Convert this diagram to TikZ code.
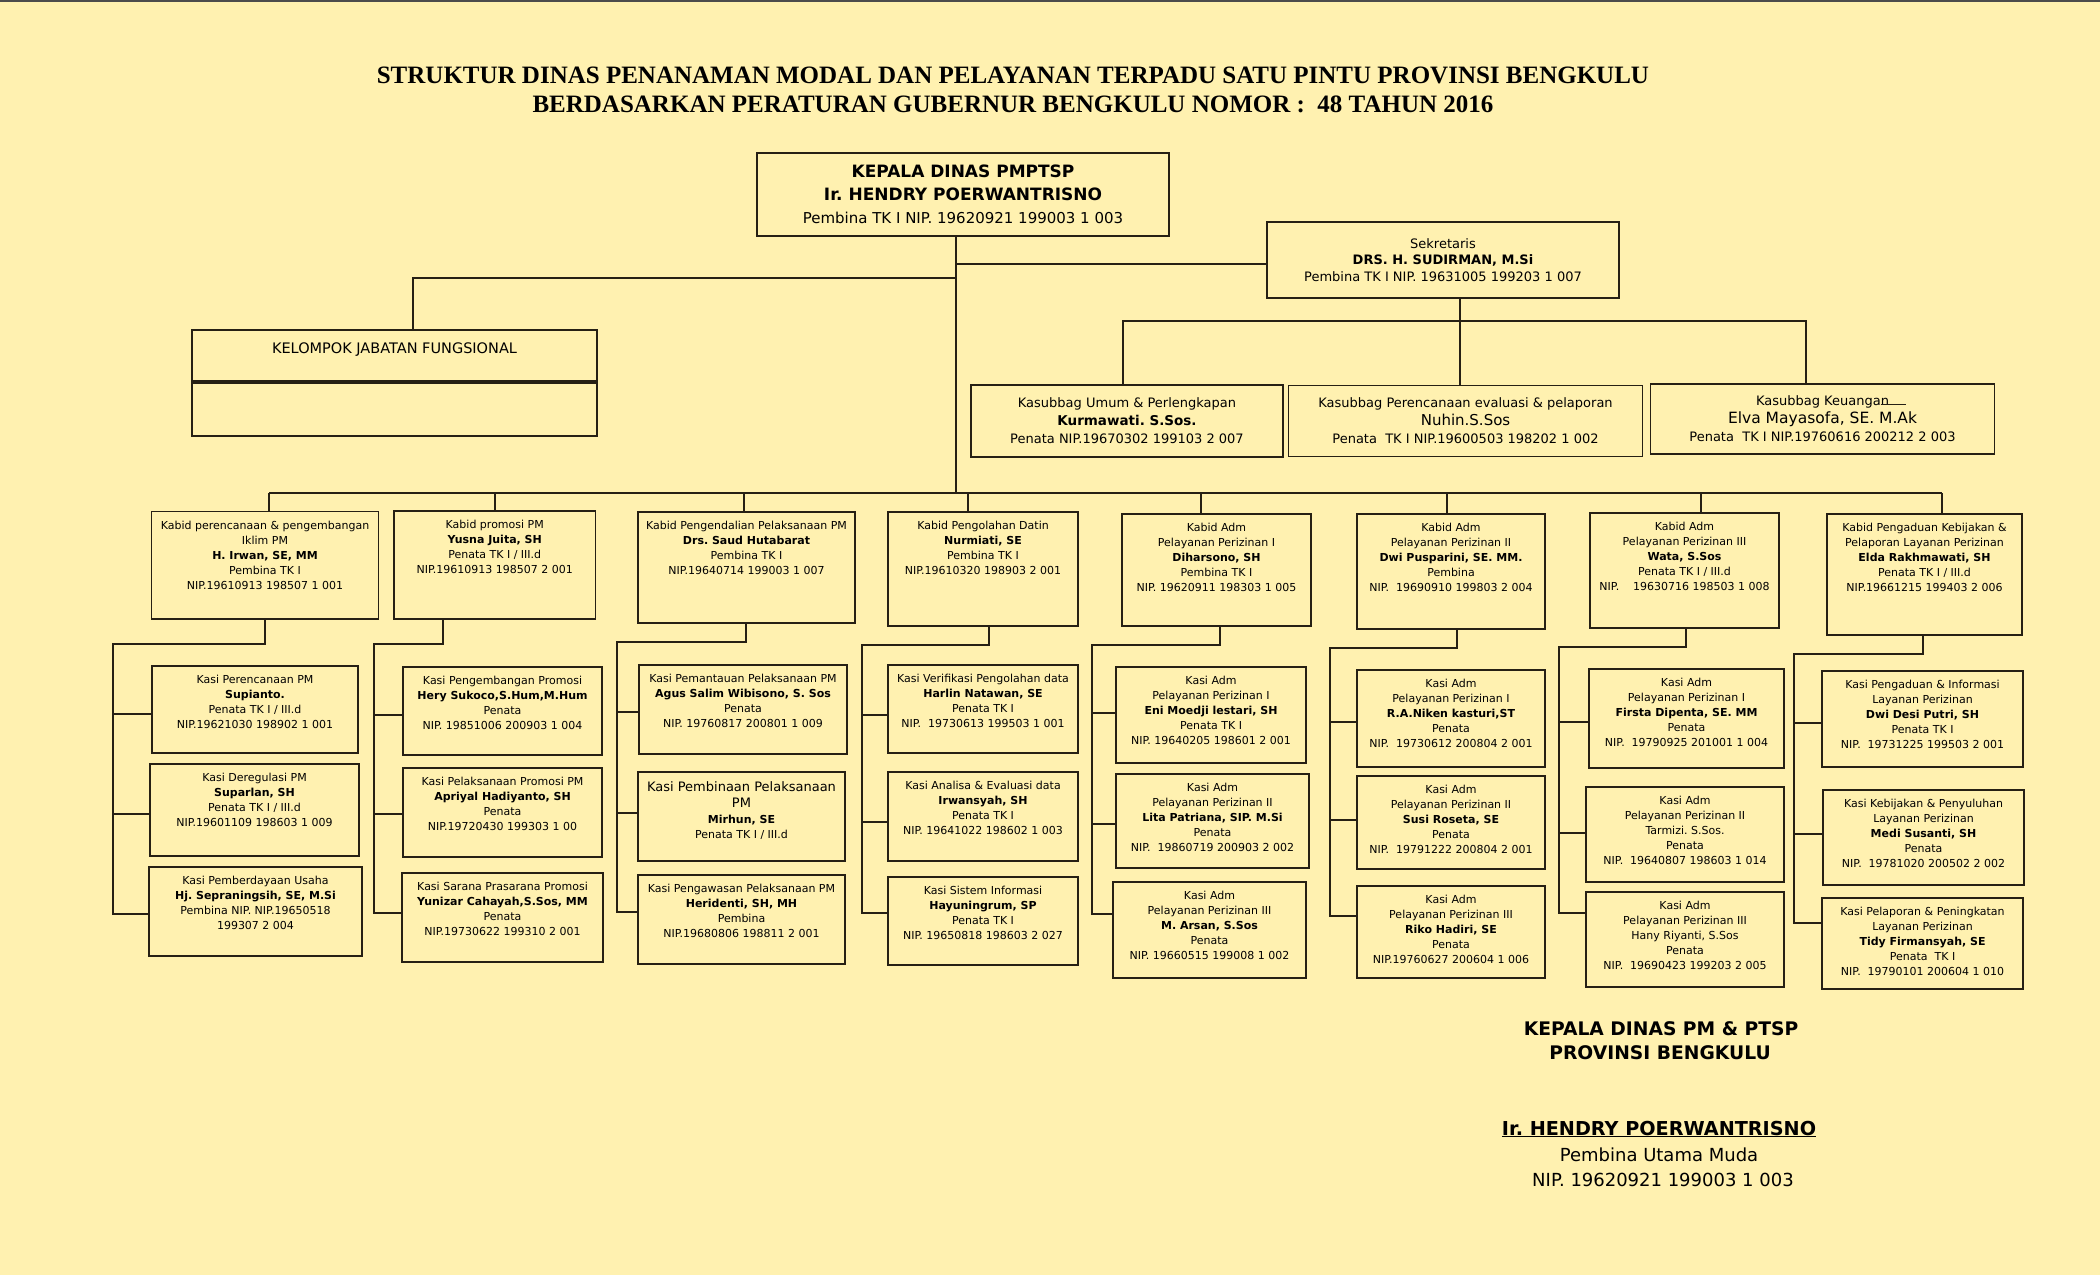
\documentclass[tikz,border=0pt]{standalone}
\usepackage{fontspec}
\setmainfont{DejaVu Sans}
\newfontfamily\titlefont{Liberation Serif}
\usetikzlibrary{positioning}
\definecolor{paper}{RGB}{255,241,176}
\definecolor{ink}{RGB}{38,32,20}
\frenchspacing

\begin{document}
\begin{tikzpicture}[x=1pt,y=-1pt,
  box/.style={draw=ink,line width=1.6pt,rectangle,inner sep=0pt},
  txt/.style={anchor=north,align=center,inner sep=0pt,yshift=-10pt,font=\fontsize{11}{15}\selectfont},
  wire/.style={draw=ink,line width=1.4pt}]
  \useasboundingbox (0,0) rectangle (2100,1275);
  \fill[paper] (0,0) rectangle (2100,1275);
  \draw[line width=1.5pt,black!70] (0,0.75) -- (2100,0.75);
  % title
  \node[align=center,inner sep=0pt,font=\titlefont\bfseries\fontsize{25}{29.5}\selectfont] (title) at (1013,90)
    {STRUKTUR DINAS PENANAMAN MODAL DAN PELAYANAN TERPADU SATU PINTU PROVINSI BENGKULU\\
     BERDASARKAN PERATURAN GUBERNUR BENGKULU NOMOR :\ \ 48 TAHUN 2016};
  % kepala dinas and sekretaris
  \node[box,minimum width=412,minimum height=83,align=center,font=\fontsize{15}{23}\selectfont]
        (kepala) at (963,194.5)
    {{\fontsize{17}{23}\selectfont\bfseries KEPALA DINAS PMPTSP}\\
     {\fontsize{17}{23}\selectfont\bfseries Ir. HENDRY POERWANTRISNO}\\
     Pembina TK I NIP. 19620921 199003 1 003};
  \node[box,minimum width=352,minimum height=76,align=center,font=\fontsize{13}{16.5}\selectfont]
        (sekr) at (1443,260)
    {Sekretaris\\\textbf{DRS. H. SUDIRMAN, M.Si}\\Pembina TK I NIP. 19631005 199203 1 007};
  % kelompok jabatan fungsional
  \node[box,minimum width=405,minimum height=51] (kel1) at (394.5,355.5) {};
  \node[box,minimum width=405,minimum height=53] (kel2) at (394.5,409.5) {};
  \node[txt,yshift=-3pt,font=\fontsize{14.5}{17}\selectfont] (kelt) at (kel1.north) {KELOMPOK JABATAN FUNGSIONAL};
  % kasubbag
  \node[box,minimum width=312,minimum height=72,align=center,font=\fontsize{13}{18}\selectfont]
        (ksb1) at (1127,421)
    {Kasubbag Umum \& Perlengkapan\\{\fontsize{13.5}{18}\selectfont\bfseries Kurmawati. S.Sos.}\\Penata NIP.19670302 199103 2 007};
  \node[box,minimum width=354,minimum height=71,align=center,font=\fontsize{13}{18}\selectfont]
        (ksb2) at (1465.5,421)
    {Kasubbag Perencanaan evaluasi \& pelaporan\\{\fontsize{15}{18}\selectfont Nuhin.S.Sos}\\Penata\ \ TK I NIP.19600503 198202 1 002};
  \node[box,minimum width=344,minimum height=70,align=center,font=\fontsize{13}{18}\selectfont]
        (ksb3) at (1822.5,419)
    {Kasubbag Keuangan\\{\fontsize{15.5}{18}\selectfont Elva Mayasofa, SE. M.Ak}\\Penata\ \ TK I NIP.19760616 200212 2 003};
  \draw[line width=1pt,ink] ([xshift=58pt,yshift=-21pt]ksb3.north) -- ++(25,0);
  % kabid row
  \node[box,minimum width=227,minimum height=107.5] (kb1) at (265,565.25) {};
  \node[txt] (kb1t) at (kb1.north) {Kabid perencanaan \& pengembangan\\Iklim PM\\\textbf{H. Irwan, SE, MM}\\Pembina TK I\\NIP.19610913 198507 1 001};
  \node[box,minimum width=201.5,minimum height=108] (kb2) at (494.75,565) {};
  \node[txt] (kb2t) at (kb2.north) {Kabid promosi PM\\\textbf{Yusna Juita, SH}\\Penata TK I / III.d\\NIP.19610913 198507 2 001};
  \node[box,minimum width=217,minimum height=111] (kb3) at (746.5,567.5) {};
  \node[txt] (kb3t) at (kb3.north) {Kabid Pengendalian Pelaksanaan PM\\\textbf{Drs. Saud Hutabarat}\\Pembina TK I\\NIP.19640714 199003 1 007};
  \node[box,minimum width=190,minimum height=114] (kb4) at (983,569) {};
  \node[txt] (kb4t) at (kb4.north) {Kabid Pengolahan Datin\\\textbf{Nurmiati, SE}\\Pembina TK I\\NIP.19610320 198903 2 001};
  \node[box,minimum width=189,minimum height=112] (kb5) at (1216.5,570) {};
  \node[txt] (kb5t) at (kb5.north) {Kabid Adm\\Pelayanan Perizinan I\\\textbf{Diharsono, SH}\\Pembina TK I\\NIP. 19620911 198303 1 005};
  \node[box,minimum width=188,minimum height=115] (kb6) at (1451,571.5) {};
  \node[txt] (kb6t) at (kb6.north) {Kabid Adm\\Pelayanan Perizinan II\\\textbf{Dwi Pusparini, SE. MM.}\\Pembina\\NIP.\ \ 19690910 199803 2 004};
  \node[box,minimum width=189,minimum height=115] (kb7) at (1684.5,570.5) {};
  \node[txt] (kb7t) at (kb7.north) {Kabid Adm\\Pelayanan Perizinan III\\\textbf{Wata, S.Sos}\\Penata TK I / III.d\\NIP.\ \ \ \ 19630716 198503 1 008};
  \node[box,minimum width=195,minimum height=121] (kb8) at (1924.5,574.5) {};
  \node[txt] (kb8t) at (kb8.north) {Kabid Pengaduan Kebijakan \&\\Pelaporan Layanan Perizinan\\\textbf{Elda Rakhmawati, SH}\\Penata TK I / III.d\\NIP.19661215 199403 2 006};
  % kasi, column 1
  \node[box,minimum width=206,minimum height=87] (k1-a) at (255,709.5) {};
  \node[txt] (k1-at) at (k1-a.north) {Kasi Perencanaan PM\\\textbf{Supianto.}\\Penata TK I / III.d\\NIP.19621030 198902 1 001};
  \node[box,minimum width=209,minimum height=92] (k1-b) at (254.5,810) {};
  \node[txt] (k1-bt) at (k1-b.north) {Kasi Deregulasi PM\\\textbf{Suparlan, SH}\\Penata TK I / III.d\\NIP.19601109 198603 1 009};
  \node[box,minimum width=213,minimum height=89] (k1-c) at (255.5,911.5) {};
  \node[txt] (k1-ct) at (k1-c.north) {Kasi Pemberdayaan Usaha\\\textbf{Hj. Sepraningsih, SE, M.Si}\\Pembina NIP. NIP.19650518\\199307 2 004};
  % kasi, column 2
  \node[box,minimum width=199,minimum height=88] (k2-a) at (502.5,711) {};
  \node[txt] (k2-at) at (k2-a.north) {Kasi Pengembangan Promosi\\\textbf{Hery Sukoco,S.Hum,M.Hum}\\Penata\\NIP. 19851006 200903 1 004};
  \node[box,minimum width=199,minimum height=89] (k2-b) at (502.5,812.5) {};
  \node[txt] (k2-bt) at (k2-b.north) {Kasi Pelaksanaan Promosi PM\\\textbf{Apriyal Hadiyanto, SH}\\Penata\\NIP.19720430 199303 1 00};
  \node[box,minimum width=201,minimum height=89] (k2-c) at (502.5,917.5) {};
  \node[txt] (k2-ct) at (k2-c.north) {Kasi Sarana Prasarana Promosi\\\textbf{Yunizar Cahayah,S.Sos, MM}\\Penata\\NIP.19730622 199310 2 001};
  % kasi, column 3
  \node[box,minimum width=208,minimum height=89] (k3-a) at (743,709.5) {};
  \node[txt] (k3-at) at (k3-a.north) {Kasi Pemantauan Pelaksanaan PM\\\textbf{Agus Salim Wibisono, S. Sos}\\Penata\\NIP. 19760817 200801 1 009};
  \node[box,minimum width=207,minimum height=89] (k3-b) at (741.5,816.5) {};
  \node[txt] (k3-bt) at (k3-b.north) {{\fontsize{13}{16}\selectfont Kasi Pembinaan Pelaksanaan}\\[1pt]{\fontsize{13}{16}\selectfont PM}\\[1pt]\textbf{Mirhun, SE}\\Penata TK I / III.d};
  \node[box,minimum width=207,minimum height=89] (k3-c) at (741.5,919.5) {};
  \node[txt] (k3-ct) at (k3-c.north) {Kasi Pengawasan Pelaksanaan PM\\\textbf{Heridenti, SH, MH}\\Pembina\\NIP.19680806 198811 2 001};
  % kasi, column 4
  \node[box,minimum width=190,minimum height=88] (k4-a) at (983,709) {};
  \node[txt] (k4-at) at (k4-a.north) {Kasi Verifikasi Pengolahan data\\\textbf{Harlin Natawan, SE}\\Penata TK I\\NIP.\ \ 19730613 199503 1 001};
  \node[box,minimum width=190,minimum height=89] (k4-b) at (983,816.5) {};
  \node[txt] (k4-bt) at (k4-b.north) {Kasi Analisa \& Evaluasi data\\\textbf{Irwansyah, SH}\\Penata TK I\\NIP. 19641022 198602 1 003};
  \node[box,minimum width=190,minimum height=88] (k4-c) at (983,921) {};
  \node[txt] (k4-ct) at (k4-c.north) {Kasi Sistem Informasi\\\textbf{Hayuningrum, SP}\\Penata TK I\\NIP. 19650818 198603 2 027};
  % kasi, column 5
  \node[box,minimum width=190,minimum height=96] (k5-a) at (1211,715) {};
  \node[txt] (k5-at) at (k5-a.north) {Kasi Adm\\Pelayanan Perizinan I\\\textbf{Eni Moedji lestari, SH}\\Penata TK I\\NIP. 19640205 198601 2 001};
  \node[box,minimum width=193,minimum height=94] (k5-b) at (1212.5,821) {};
  \node[txt] (k5-bt) at (k5-b.north) {Kasi Adm\\Pelayanan Perizinan II\\\textbf{Lita Patriana, SIP. M.Si}\\Penata\\NIP.\ \ 19860719 200903 2 002};
  \node[box,minimum width=193,minimum height=96] (k5-c) at (1209.5,930) {};
  \node[txt] (k5-ct) at (k5-c.north) {Kasi Adm\\Pelayanan Perizinan III\\\textbf{M. Arsan, S.Sos}\\Penata\\NIP. 19660515 199008 1 002};
  % kasi, column 6
  \node[box,minimum width=188,minimum height=97] (k6-a) at (1451,718.5) {};
  \node[txt] (k6-at) at (k6-a.north) {Kasi Adm\\Pelayanan Perizinan I\\\textbf{R.A.Niken kasturi,ST}\\Penata\\NIP.\ \ 19730612 200804 2 001};
  \node[box,minimum width=188,minimum height=93] (k6-b) at (1451,822.5) {};
  \node[txt] (k6-bt) at (k6-b.north) {Kasi Adm\\Pelayanan Perizinan II\\\textbf{Susi Roseta, SE}\\Penata\\NIP.\ \ 19791222 200804 2 001};
  \node[box,minimum width=188,minimum height=92] (k6-c) at (1451,932) {};
  \node[txt] (k6-ct) at (k6-c.north) {Kasi Adm\\Pelayanan Perizinan III\\\textbf{Riko Hadiri, SE}\\Penata\\NIP.19760627 200604 1 006};
  % kasi, column 7
  \node[box,minimum width=195,minimum height=99] (k7-a) at (1686.5,718.5) {};
  \node[txt] (k7-at) at (k7-a.north) {Kasi Adm\\Pelayanan Perizinan I\\\textbf{Firsta Dipenta, SE. MM}\\Penata\\NIP.\ \ 19790925 201001 1 004};
  \node[box,minimum width=198,minimum height=95] (k7-b) at (1685,834.5) {};
  \node[txt] (k7-bt) at (k7-b.north) {Kasi Adm\\Pelayanan Perizinan II\\Tarmizi. S.Sos.\\Penata\\NIP.\ \ 19640807 198603 1 014};
  \node[box,minimum width=198,minimum height=95] (k7-c) at (1685,939.5) {};
  \node[txt] (k7-ct) at (k7-c.north) {Kasi Adm\\Pelayanan Perizinan III\\Hany Riyanti, S.Sos\\Penata\\NIP.\ \ 19690423 199203 2 005};
  % kasi, column 8
  \node[box,minimum width=201,minimum height=96] (k8-a) at (1922.5,719) {};
  \node[txt] (k8-at) at (k8-a.north) {Kasi Pengaduan \& Informasi\\Layanan Perizinan\\\textbf{Dwi Desi Putri, SH}\\Penata TK I\\NIP.\ \ 19731225 199503 2 001};
  \node[box,minimum width=201,minimum height=95] (k8-b) at (1923.5,837.5) {};
  \node[txt] (k8-bt) at (k8-b.north) {Kasi Kebijakan \& Penyuluhan\\Layanan Perizinan\\\textbf{Medi Susanti, SH}\\Penata\\NIP.\ \ 19781020 200502 2 002};
  \node[box,minimum width=201,minimum height=91] (k8-c) at (1922.5,943.5) {};
  \node[txt] (k8-ct) at (k8-c.north) {Kasi Pelaporan \& Peningkatan\\Layanan Perizinan\\\textbf{Tidy Firmansyah, SE}\\Penata\ \ TK I\\NIP.\ \ 19790101 200604 1 010};
  % signature
  \node[anchor=base,font=\fontsize{18.7}{24}\selectfont\bfseries] (sig1) at (1661,1035) {KEPALA DINAS PM \& PTSP};
  \node[anchor=base,font=\fontsize{18.7}{24}\selectfont\bfseries] (sig2) at (1660,1059) {PROVINSI BENGKULU};
  \node[anchor=base,font=\fontsize{19.2}{24}\selectfont\bfseries] (sig3) at (1659,1135) {\underline{Ir. HENDRY POERWANTRISNO}};
  \node[anchor=base,font=\fontsize{18}{24}\selectfont] (sig4) at (1659,1161) {Pembina Utama Muda};
  \node[anchor=base,font=\fontsize{18}{24}\selectfont] (sig5) at (1663,1186) {NIP. 19620921 199003 1 003};
  % upper connectors
  \coordinate (trunk) at (956,493);
  \coordinate (skl) at (956,264);
  \coordinate (kjt) at (413,278);
  \draw[wire] (kepala.south -| trunk) -- (trunk);
  \draw[wire] (skl) -- (skl -| sekr.west);
  \draw[wire] (trunk |- kjt) -- (kjt) -- (kjt |- kel1.north);
  \coordinate (kbus) at (1460,321);
  \coordinate (kbl) at (1123,321);
  \coordinate (kbr) at (1806,321);
  \draw[wire] (sekr.south -| kbus) -- (kbus |- ksb2.north);
  \draw[wire] (kbl |- ksb1.north) -- (kbl) -- (kbr) -- (kbr |- ksb3.north);
  % kabid bus
  \foreach \c/\tx in {1/269,2/495,3/744,4/968,5/1201,6/1447,7/1701,8/1942}{
    \coordinate (kt\c) at (\tx,493);
    \draw[wire] (kt\c) -- (kt\c |- kb\c.north);
  }
  \draw[wire] (kt1) -- (kt8);
  % kasi rails
  \foreach \c/\dx/\by/\rx/\ya/\yb/\yc in {1/265/644/113/714/814/914,2/443/644/374/715/814/913,
      3/746/642/617/712/813/912,4/989/645/862/715/822/913,5/1220/645/1092/713/824/914,
      6/1457/648/1330/722/820/916,7/1686/647/1559/722/833/913,8/1923/654/1794/723/834/923}{
    \coordinate (bus\c) at (\dx,\by);
    \coordinate (rail\c) at (\rx,\by);
    \coordinate (ta\c) at (\rx,\ya);
    \coordinate (tb\c) at (\rx,\yb);
    \coordinate (tc\c) at (\rx,\yc);
    \draw[wire] (kb\c.south -| bus\c) -- (bus\c) -- (rail\c) -- (tc\c) -- (k\c-c.west |- tc\c);
    \draw[wire] (ta\c) -- (k\c-a.west |- ta\c);
    \draw[wire] (tb\c) -- (k\c-b.west |- tb\c);
  }
\end{tikzpicture}
\end{document}
